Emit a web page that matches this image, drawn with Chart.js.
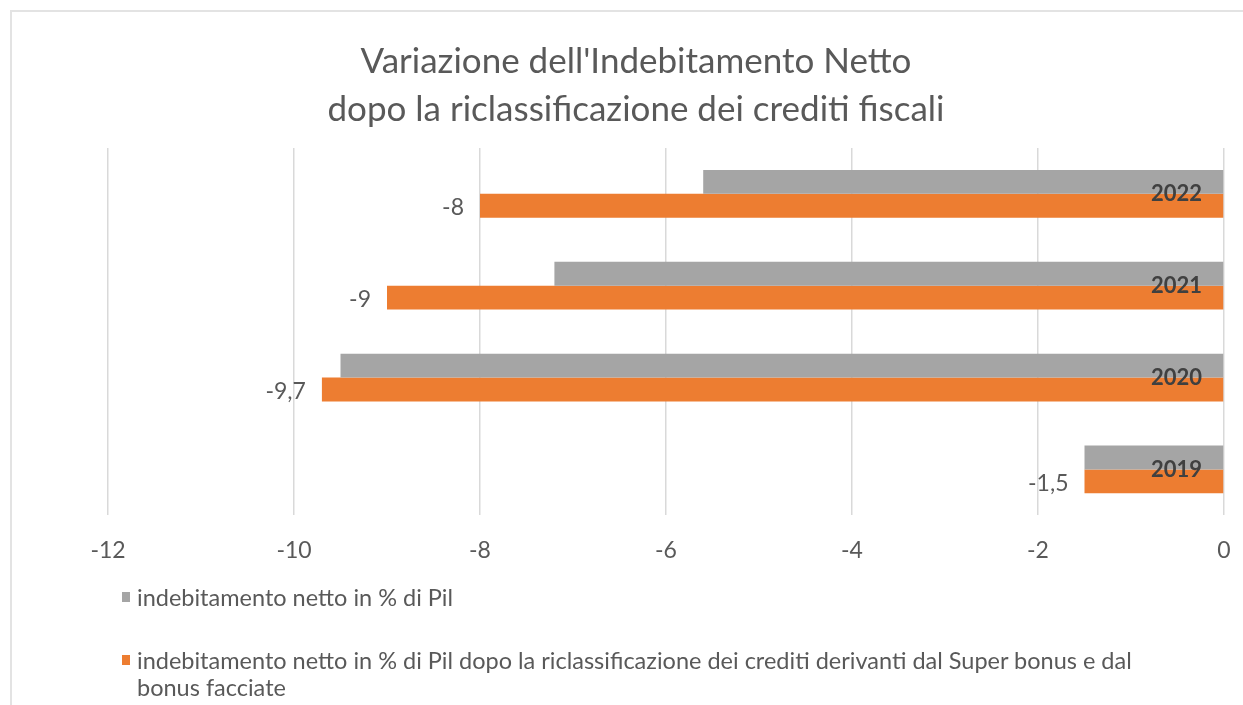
<!DOCTYPE html>
<html lang="it">
<head>
<meta charset="utf-8">
<title>Variazione dell'Indebitamento Netto</title>
<script src="https://cdn.jsdelivr.net/npm/chart.js@4/dist/chart.umd.min.js"></script>
<style>
  html, body { margin: 0; padding: 0; background: #fff; }
  body { width: 1243px; height: 705px; position: relative; overflow: hidden;
         font-family: Lato, "Open Sans", sans-serif; }
  .frame { position: absolute; left: 10px; top: 10px; right: 0; bottom: 0;
           border-left: 2px solid #e3e3e3; border-top: 2px solid #e3e3e3; }
  #wrap { position: absolute; left: 0; top: 0; width: 1243px; height: 585px; }
  #legend { position: absolute; left: 121px; top: 584px; width: 1028px;
            color: #595959; font-size: 23.5px; line-height: 27px; }
  #legend .item { position: relative; padding-left: 16px; margin-bottom: 36px; }
  #legend .box { position: absolute; left: 1px; top: 8px; width: 8px; height: 10px; }
</style>
</head>
<body>
<div class="frame"></div>
<div id="wrap"><canvas id="chartIndeb"></canvas></div>
<div id="legend"></div>
<script>
  const FONT = 'Lato, "Open Sans", sans-serif';

  // dati
  const anni = ['2022', '2021', '2020', '2019'];
  const indebitamento = [-5.6, -7.2, -9.5, -1.5];
  const indebRiclass = [-8, -9, -9.7, -1.5];
  const tickValori = [-12, -10, -8, -6, -4, -2, 0];

  const serie1 = 'indebitamento netto in % di Pil';
  const serie2 = 'indebitamento netto in % di Pil dopo la riclassificazione dei crediti derivanti dal Super bonus e dal bonus facciate';

  const fmt = v => String(v).replace('.', ',');

  // etichette valore a sinistra delle barre arancioni
  const etichetteValori = {
    id: 'etichetteValori',
    afterDatasetsDraw(chart) {
      const ctx = chart.ctx;
      const meta = chart.getDatasetMeta(1);
      ctx.save();
      ctx.font = '23px ' + FONT;
      ctx.fillStyle = '#595959';
      ctx.textAlign = 'right';
      ctx.textBaseline = 'middle';
      meta.data.forEach((bar, i) => {
        ctx.fillText(fmt(indebRiclass[i]), bar.x - 16, bar.y + 2);
      });
      ctx.restore();
    }
  };

  const chart = new Chart(document.getElementById('chartIndeb'), {
    type: 'bar',
    data: {
      labels: anni,
      datasets: [
        { label: serie1, data: indebitamento, backgroundColor: '#a5a5a5' },
        { label: serie2, data: indebRiclass, backgroundColor: '#ed7d31' }
      ]
    },
    options: {
      indexAxis: 'y',
      responsive: true,
      maintainAspectRatio: false,
      animation: false,
      categoryPercentage: 0.52,
      barPercentage: 1,
      // padding simmetrico per centrare il titolo, l'area del grafico la sposta l'asse x
      layout: { padding: { left: 38, right: 9, top: 0, bottom: 0 } },
      plugins: {
        legend: { display: false },
        tooltip: { enabled: false },
        title: {
          display: true,
          text: ["Variazione dell'Indebitamento Netto", 'dopo la riclassificazione dei crediti fiscali'],
          color: '#595959',
          font: { family: FONT, size: 35, weight: 'normal', lineHeight: 1.37 },
          padding: { top: 38, bottom: 14 }
        }
      },
      scales: {
        x: {
          min: -12, max: 0,
          afterBuildTicks: s => { s.ticks = tickValori.map(v => ({ value: v })); },
          afterFit: s => { s.paddingLeft = 108; s.paddingRight = 19; },
          grid: { color: '#d9d9d9', lineWidth: 1.5, drawTicks: false },
          border: { display: false },
          ticks: {
            color: '#595959', padding: 21,
            font: { family: FONT, size: 23 },
            callback: v => fmt(v)
          }
        },
        y: {
          position: 'right',
          grid: { display: false },
          border: { display: false },
          afterFit: s => { s.width = 0; },
          ticks: {
            z: 1,
            mirror: true, padding: -22, color: '#404040',
            font: { family: FONT, size: 22, weight: 'bold' }
          }
        }
      }
    },
    plugins: [etichetteValori]
  });

  // legenda HTML (il testo della seconda serie va a capo)
  const legend = document.getElementById('legend');
  legend.innerHTML = chart.data.datasets.map(ds =>
    `<div class="item"><span class="box" style="background:${ds.backgroundColor}"></span>${ds.label}</div>`
  ).join('');
</script>
</body>
</html>
